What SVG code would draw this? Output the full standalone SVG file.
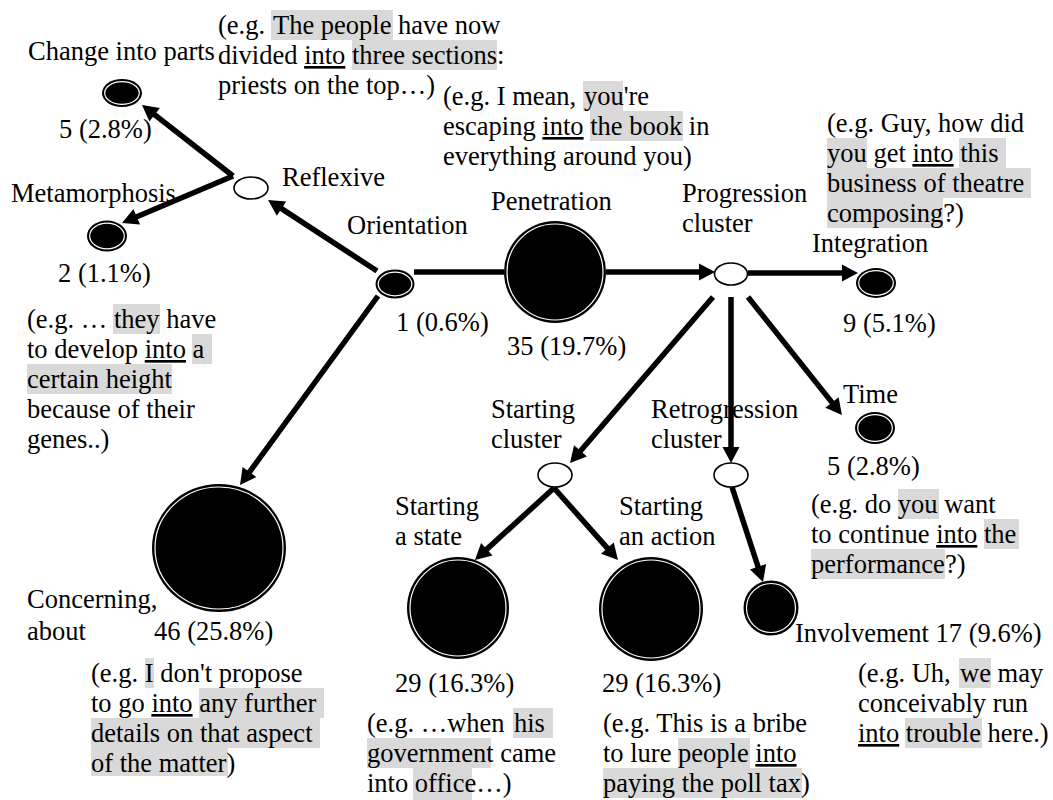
<svg xmlns="http://www.w3.org/2000/svg" width="1053" height="800" viewBox="0 0 1053 800">
<style>
text { font-family: "Liberation Serif", "Times New Roman", serif; font-size: 26.5px; fill: #000; }
.u { text-decoration: underline; }
.hl { fill: #d9d9d9; }
.full { fill: #000; }
.ring { fill: none; stroke: #fff; stroke-width: 1.2; }
.empty { fill: #fff; stroke: #000; stroke-width: 1.6; }
.conn { stroke: #000; stroke-width: 5.5; fill: none; }
</style>
<defs>
<marker id="ah" markerUnits="userSpaceOnUse" markerWidth="16" markerHeight="17" refX="5" refY="8.5" orient="auto" overflow="visible"><path d="M0,0 L16,8.5 L0,17 z" fill="#000"/></marker>
</defs>
<rect width="1053" height="800" fill="#fff"/>

<g id="node-change">
<ellipse class="full" cx="122" cy="93" rx="20" ry="14"/>
<ellipse class="ring" cx="122" cy="93" rx="17.3" ry="11.3"/>
<text x="28" y="60">Change into parts</text>
<text x="59" y="138">5 (2.8%)</text>
<rect class="hl" x="271" y="10" width="122" height="30"/>
<rect class="hl" x="352" y="40" width="145" height="30"/>
<text x="218" y="34">(e.g. <tspan x="273">The people</tspan> have now</text>
<text x="218" y="64">divided <tspan class="u">into</tspan> three sections:</text>
<text x="218" y="94">priests on the top…)</text>
</g>

<g id="node-metamorphosis">
<ellipse class="full" cx="107" cy="236" rx="20" ry="15.5"/>
<ellipse class="ring" cx="107" cy="236" rx="17.3" ry="12.8"/>
<text x="11" y="202">Metamorphosis</text>
<text x="58" y="282">2 (1.1%)</text>
<rect class="hl" x="113" y="304" width="47" height="30"/>
<rect class="hl" x="192" y="334" width="20" height="30"/>
<rect class="hl" x="27" y="364" width="145" height="30"/>
<text x="27" y="328">(e.g. …<tspan x="114">they</tspan> have</text>
<text x="27" y="358">to develop <tspan class="u">into</tspan> a</text>
<text x="27" y="388">certain height</text>
<text x="27" y="418">because of their</text>
<text x="27" y="448">genes..)</text>
</g>

<g id="node-reflexive">
<ellipse class="empty" cx="251" cy="188" rx="17" ry="11"/>
<text x="282" y="186">Reflexive</text>
</g>

<g id="node-orientation">
<ellipse class="full" cx="395" cy="284" rx="19.5" ry="14.5"/>
<ellipse class="ring" cx="395" cy="284" rx="16.8" ry="11.8"/>
<text x="347" y="234">Orientation</text>
<text x="396" y="331">1 (0.6%)</text>
</g>

<g id="node-penetration">
<circle class="full" cx="555" cy="272" r="51"/>
<circle class="ring" cx="555" cy="272" r="48"/>
<text x="491" y="210">Penetration</text>
<text x="507" y="355">35 (19.7%)</text>
<rect class="hl" x="583" y="81" width="40" height="30"/>
<rect class="hl" x="590" y="111" width="93" height="30"/>
<text x="443" y="105">(e.g. I mean, <tspan x="584">you</tspan>'re</text>
<text x="443" y="135">escaping <tspan class="u">into</tspan> the book in</text>
<text x="443" y="165">everything around you)</text>
</g>

<g id="node-progression">
<ellipse class="empty" cx="731" cy="274" rx="16.5" ry="11"/>
<text x="682" y="202">Progression</text>
<text x="682" y="232">cluster</text>
</g>

<g id="node-integration">
<ellipse class="full" cx="876" cy="283" rx="20" ry="15"/>
<ellipse class="ring" cx="876" cy="283" rx="17.3" ry="12.3"/>
<text x="812" y="252">Integration</text>
<text x="843" y="332">9 (5.1%)</text>
<rect class="hl" x="827" y="138" width="40" height="30"/>
<rect class="hl" x="959" y="138" width="47" height="30"/>
<rect class="hl" x="827" y="168" width="204" height="30"/>
<rect class="hl" x="827" y="198" width="116" height="30"/>
<text x="827" y="132">(e.g. Guy, how did</text>
<text x="827" y="162">you get <tspan class="u">into</tspan> this</text>
<text x="827" y="192">business of theatre</text>
<text x="827" y="222">composing?)</text>
</g>

<g id="node-time">
<ellipse class="full" cx="875" cy="428" rx="20" ry="16"/>
<ellipse class="ring" cx="875" cy="428" rx="17.3" ry="13.3"/>
<text x="843" y="403">Time</text>
<text x="827" y="475">5 (2.8%)</text>
<rect class="hl" x="898" y="489" width="41" height="30"/>
<rect class="hl" x="984" y="519" width="35" height="30"/>
<rect class="hl" x="811" y="549" width="134" height="30"/>
<text x="811" y="513">(e.g. do you want</text>
<text x="811" y="543">to continue <tspan class="u">into</tspan> the</text>
<text x="811" y="573">performance?)</text>
</g>

<g id="node-starting-cluster">
<ellipse class="empty" cx="555" cy="475" rx="17" ry="12"/>
<text x="491" y="418">Starting</text>
<text x="491" y="448">cluster</text>
</g>

<g id="node-retrogression">
<ellipse class="empty" cx="731" cy="475" rx="17" ry="12"/>
<text x="651" y="418">Retrogression</text>
<text x="651" y="448">cluster</text>
</g>

<g id="node-concerning">
<ellipse class="full" cx="219" cy="548" rx="67" ry="64"/>
<ellipse class="ring" cx="219" cy="548" rx="64" ry="61"/>
<text x="27" y="608">Concerning,</text>
<text x="27" y="640">about</text>
<text x="154" y="640">46 (25.8%)</text>
<rect class="hl" x="145" y="658" width="9" height="30"/>
<rect class="hl" x="199" y="688" width="125" height="30"/>
<rect class="hl" x="91" y="718" width="229" height="30"/>
<rect class="hl" x="91" y="748" width="137" height="28"/>
<text x="91" y="682">(e.g. I don't propose</text>
<text x="91" y="712">to go <tspan class="u">into</tspan> any further</text>
<text x="91" y="742">details on that aspect</text>
<text x="91" y="772">of the matter)</text>
</g>

<g id="node-starting-state">
<circle class="full" cx="458" cy="608" r="51"/>
<circle class="ring" cx="458" cy="608" r="48"/>
<text x="395" y="515">Starting</text>
<text x="395" y="545">a state</text>
<text x="395" y="692">29 (16.3%)</text>
<rect class="hl" x="513" y="708" width="40" height="30"/>
<rect class="hl" x="367" y="738" width="124" height="30"/>
<rect class="hl" x="413" y="768" width="59" height="32"/>
<text x="367" y="732">(e.g. …when <tspan x="514">his</tspan></text>
<text x="367" y="762">government came</text>
<text x="367" y="792">into office…)</text>
</g>

<g id="node-starting-action">
<circle class="full" cx="651" cy="609" r="52"/>
<circle class="ring" cx="651" cy="609" r="49"/>
<text x="619" y="515">Starting</text>
<text x="619" y="545">an action</text>
<text x="602" y="692">29 (16.3%)</text>
<rect class="hl" x="678" y="738" width="72" height="30"/>
<rect class="hl" x="603" y="768" width="199" height="30"/>
<text x="603" y="732">(e.g. This is a bribe</text>
<text x="603" y="762">to lure people <tspan class="u">into</tspan></text>
<text x="603" y="792">paying the poll tax)</text>
</g>

<g id="node-involvement">
<circle class="full" cx="771" cy="608" r="27.5"/>
<circle class="ring" cx="771" cy="608" r="24.5"/>
<text x="795" y="642">Involvement 17 (9.6%)</text>
<rect class="hl" x="959" y="658" width="32" height="30"/>
<rect class="hl" x="905" y="718" width="77" height="30"/>
<text x="858" y="682">(e.g. Uh, <tspan x="960">we</tspan> may</text>
<text x="858" y="712">conceivably run</text>
<text x="858" y="742"><tspan class="u">into</tspan> trouble here.)</text>
</g>

<g id="connectors" class="conn">
<line x1="377" y1="271" x2="277.3" y2="205.9" marker-end="url(#ah)"/>
<line x1="233" y1="176" x2="150.7" y2="111.7" marker-end="url(#ah)"/>
<line x1="233" y1="176" x2="132.1" y2="218.7" marker-end="url(#ah)"/>
<line x1="378" y1="296" x2="246.5" y2="476.1" marker-end="url(#ah)"/>
<line x1="414" y1="272" x2="504" y2="272"/>
<line x1="606" y1="272" x2="704" y2="272" marker-end="url(#ah)"/>
<line x1="748" y1="273" x2="847" y2="273" marker-end="url(#ah)"/>
<line x1="713" y1="297" x2="577.2" y2="454.7" marker-end="url(#ah)"/>
<line x1="731" y1="297" x2="731" y2="452" marker-end="url(#ah)"/>
<line x1="748" y1="297" x2="835.1" y2="406.4" marker-end="url(#ah)"/>
<line x1="554" y1="488" x2="483.1" y2="552.6" marker-end="url(#ah)"/>
<line x1="554" y1="488" x2="610.7" y2="551.8" marker-end="url(#ah)"/>
<line x1="732" y1="487" x2="759.6" y2="571.5" marker-end="url(#ah)"/>
</g>
</svg>
